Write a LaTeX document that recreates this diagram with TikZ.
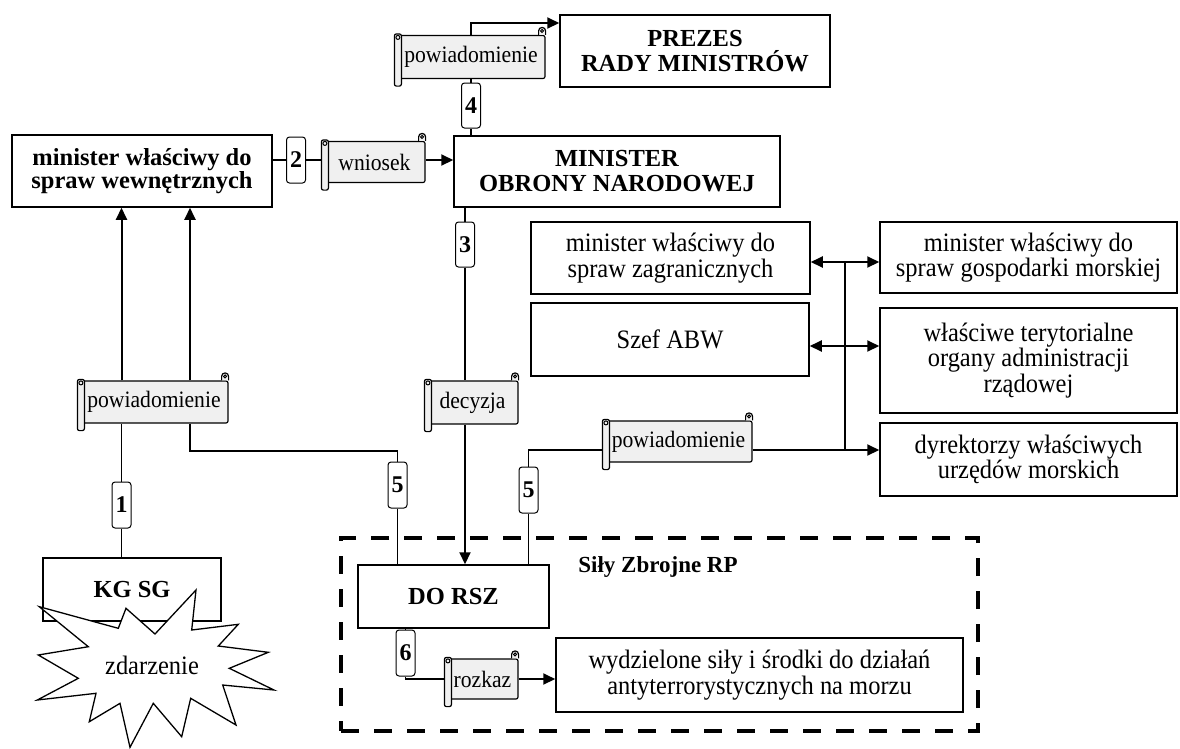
\documentclass[tikz,border=0pt]{standalone}
\usepackage{fontspec}
\setmainfont{Liberation Serif}
\newfontfamily\regfont[FakeStretch=0.92]{Liberation Serif}
\usetikzlibrary{arrows.meta,calc}
\definecolor{scrollgray}{HTML}{F0F0F0}
\tikzset{
 box/.style={draw, line width=1.5pt, fill=white, align=center, inner sep=0pt, font=\regfont\fontsize{26.6}{25.5}\selectfont},
 bbox/.style={box, font=\bfseries\fontsize{24.5}{25}\selectfont},
 badge/.style={draw, line width=1pt, fill=white, rounded corners=3pt, inner sep=0pt, minimum width=19pt, minimum height=46pt, font=\bfseries\fontsize{24}{24}\selectfont},
 scroll/.style={draw, line width=1.2pt, fill=scrollgray, rounded corners=2pt, inner sep=0pt, align=center, font=\regfont\fontsize{23.5}{23}\selectfont},
 conn/.style={line width=1.7pt},
 arr/.style={line width=2pt, -{Triangle[length=12pt,width=11pt]}},
 darr/.style={line width=2pt, {Triangle[length=12pt,width=11pt]}-{Triangle[length=12pt,width=11pt]}},
 frame/.style={draw, line width=4.5pt, dash pattern=on 18pt off 15pt, inner sep=0pt},
}
\newcommand{\scrolldeco}[1]{%
  \draw[line width=1.2pt, fill=scrollgray, rounded corners=2pt]
    ([xshift=-2pt,yshift=1pt]#1.north west) rectangle ([xshift=5pt,yshift=-7pt]#1.south west);
  \draw[line width=1pt] ([xshift=1.5pt,yshift=-2.5pt]#1.north west) circle[radius=2pt];
  \draw[line width=1.2pt, fill=scrollgray]
    ([xshift=-7pt]#1.north east) -- ([xshift=-7pt,yshift=4pt]#1.north east)
    arc[start angle=180, end angle=0, radius=3.5pt] -- (#1.north east);
  \draw[line width=1pt] ([xshift=-3.5pt,yshift=4pt]#1.north east) circle[radius=1.5pt];
}
\begin{document}
\begin{tikzpicture}[x=1pt,y=-1pt]
\useasboundingbox[fill=white] (0,0) rectangle (1180,748);

% top part
\node[bbox, font=\bfseries\fontsize{24.5}{23}\selectfont, minimum width=260pt, minimum height=72pt] (mswa) at (142,171) {minister właściwy do\\spraw wewnętrznych};
\node[badge] (b2) at (296,160) {2};
\node[scroll, minimum width=101pt, minimum height=41pt] (wn) at (374.5,162) {wniosek};
\node[bbox, minimum width=326pt, minimum height=71pt] (mon) at (617,171.5) {MINISTER\\OBRONY NARODOWEJ};
\node[bbox, minimum width=270pt, minimum height=72pt] (pr) at (695,51) {PREZES\\RADY MINISTRÓW};
\node[badge, minimum height=45pt] (b4) at (471,105.5) {4};
\node[scroll, minimum width=148pt, minimum height=43pt] (pt) at (471,57) {powiadomienie};
\node[badge, minimum height=45pt] (b3) at (465,244.5) {3};

% right boxes
\node[box, minimum width=279pt, minimum height=72pt] (msz) at (670.5,258) {minister właściwy do\\spraw zagranicznych};
\node[box, minimum width=278pt, minimum height=73pt] (abw) at (670,339.5) {Szef ABW};
\node[box, minimum width=297pt, minimum height=71pt] (msgm) at (1028.5,257.5) {minister właściwy do\\spraw gospodarki morskiej};
\node[box, minimum width=297pt, minimum height=105pt] (wto) at (1028.5,360.5) {właściwe terytorialne\\organy administracji\\rządowej};
\node[box, minimum width=297pt, minimum height=73pt] (dyr) at (1028.5,459.5) {dyrektorzy właściwych\\urzędów morskich};

% middle scrolls and badges
\node[scroll, minimum width=148pt, minimum height=42pt] (pl) at (154,402) {powiadomienie};
\node[scroll, minimum width=91pt, minimum height=43pt] (dz) at (472.5,402.5) {decyzja};
\node[scroll, minimum width=147pt, minimum height=41pt] (ps) at (678.5,441.5) {powiadomienie};
\node[badge] (b1) at (121.5,505) {1};
\node[badge] (b5a) at (397.5,485) {5};
\node[badge] (b5b) at (528.5,490) {5};

% armed forces frame
\node[frame, minimum width=637pt, minimum height=193pt] (sz) at (659.5,634.5) {};
\node[font=\bfseries\fontsize{23}{23}\selectfont] (szl) at (658,567) {Siły Zbrojne RP};
\node[bbox, minimum width=191pt, minimum height=63pt] (dors) at (453.5,596.5) {DO RSZ};
\node[badge] (b6) at (405.5,653) {6};
\node[scroll, minimum width=71pt, minimum height=40pt] (rz) at (482.5,679) {rozkaz};
\node[box, minimum width=407pt, minimum height=74pt] (wyd) at (759.5,675) {wydzielone siły i środki do działań\\antyterrorystycznych na morzu};

% KG SG and event
\node[bbox, minimum width=178pt, minimum height=63pt] (kg) at (132,589.5) {KG SG};
\draw[line width=1.3pt, fill=white] (39.3,606.7) -- (118.3,628.3) -- (126,608.3) -- (155,634) -- (196,590) -- (191.7,630) -- (238.3,624.3) -- (218.3,646) -- (268.3,652.3) -- (229.3,668.3) -- (274,690) -- (222.7,685) -- (236,725) -- (190.7,698.3) -- (181.7,736.7) -- (153.3,703.3) -- (130,747.3) -- (120,703.3) -- (89.3,721.7) -- (96,693.3) -- (37.3,700) -- (78.3,678.3) -- (38.3,655) -- (88.3,646.7) -- cycle;
\node[font=\regfont\fontsize{26.6}{25}\selectfont] (zd) at (152,665) {zdarzenie};

% scroll decorations
\scrolldeco{wn}
\scrolldeco{pt}
\scrolldeco{pl}
\scrolldeco{dz}
\scrolldeco{ps}
\scrolldeco{rz}

% coordinates
\coordinate (c5) at (471,23);
\coordinate (c1) at (190,451);
\coordinate (c3) at (529,450);
\coordinate (v1) at (845,262);
\coordinate (v2) at (845,450);
\coordinate (v3) at (845,346);

% connectors
\draw[conn] (mswa.east |- b2) -- (b2.west);
\draw[conn] (b2.east) -- ([xshift=-2pt]wn.west |- b2);
\draw[arr] (wn.east |- b2) -- (mon.west |- b2);
\draw[conn] (mon.north -| b4) -- (b4.south);
\draw[conn] (b4.north) -- (pt.south -| b4);
\draw[arr] (pt.north -| b4) -- (c5) -- (c5 -| pr.west);
\draw[conn] (mon.south -| b3) -- (b3.north);
\draw[conn] (b3.south) -- (dz.north -| b3);
\draw[arr] (dz.south -| b3) -- (dors.north -| b3);
\draw[conn] (kg.north -| b1) -- (b1.south);
\draw[conn] (b1.north) -- (pl.south -| b1);
\draw[arr] (pl.north -| b1) -- (mswa.south -| b1);
\draw[arr] (pl.north -| c1) -- (mswa.south -| c1);
\draw[conn] (pl.south -| c1) -- (c1) -| (b5a.north);
\draw[conn] (b5a.south) -- (dors.north -| b5a);
\draw[conn] (dors.north -| b5b) -- (b5b.south);
\draw[conn] (b5b.north) |- ([xshift=-2pt]ps.west |- c3);
\draw[arr] (ps.east |- c3) -- (dyr.west |- c3);
\draw[conn] (v1) -- (v2);
\draw[darr] (msz.east |- v1) -- (msgm.west |- v1);
\draw[darr] (abw.east |- v3) -- (wto.west |- v3);
\draw[conn] (dors.south -| b6) -- (b6.north);
\draw[conn] (b6.south) |- ([xshift=-2pt]rz.west);
\draw[arr] (rz.east) -- (wyd.west |- rz.east);
\end{tikzpicture}
\end{document}
